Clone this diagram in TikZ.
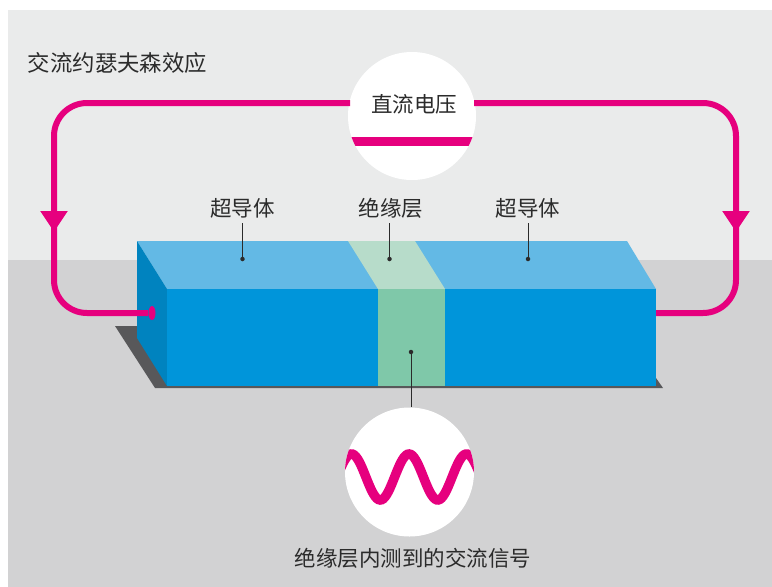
\documentclass[tikz,border=0pt]{standalone}
\usepackage{fontspec}
\setmainfont{Noto Sans CJK SC}
\usepackage{xcolor}
\usetikzlibrary{positioning,arrows.meta,shapes.geometric}

\definecolor{wallgray}{HTML}{EAEBEB}
\definecolor{floorgray}{HTML}{D2D2D3}
\definecolor{shadowgray}{HTML}{58585A}
\definecolor{sctop}{HTML}{63B9E5}
\definecolor{scfront}{HTML}{0095DA}
\definecolor{scside}{HTML}{0083BF}
\definecolor{instop}{HTML}{B7DCCA}
\definecolor{insfront}{HTML}{7FC8A9}
\definecolor{wirepink}{HTML}{E6007E}
\definecolor{inkgray}{HTML}{2B2B2B}

\begin{document}
\begin{tikzpicture}[
    x=1pt, y=-1pt,
    wire/.style={draw=wirepink, line width=6pt, rounded corners=33pt},
    flow/.style={-{Triangle[width=26pt,length=21pt]}},
    disc/.style={circle, fill=white, inner sep=0pt, minimum size=#1},
    wirecap/.style={ellipse, fill=wirepink, inner sep=0pt, minimum width=7pt, minimum height=14pt},
    label/.style={inkgray, font=\fontsize{21.5}{24}\selectfont, inner sep=0pt},
    leader/.style={draw=inkgray, line width=1pt},
    dot/.style={circle, fill=inkgray, inner sep=0pt, minimum size=4.5pt}
]
    \useasboundingbox (0,0) rectangle (772,587);

    % wall and floor
    \fill[wallgray] (8,10) rectangle (772,260);
    \fill[floorgray] (8,260) rectangle (772,587);

    % shadow under the block
    \fill[shadowgray] (115,326) -- (137,326) -- (167,380) -- (656,378) -- (663,388) -- (155,388) -- cycle;

    % superconductor block with the barrier in the middle
    \fill[sctop] (137,241) -- (627,241) -- (656,289) -- (167,289) -- cycle;
    \fill[scside] (137,241) -- (167,289) -- (167,386) -- (137,338) -- cycle;
    \fill[scfront] (167,289) rectangle (656,386);
    \fill[instop] (348,241) -- (415,241) -- (445,289) -- (378,289) -- cycle;
    \fill[insfront] (378,289) rectangle (445,386);

    % wire ends and corners
    \node[disc=128pt] (dc) at (412,116) {};
    \node[wirecap] (terminal) at (152,313) {};
    \coordinate (dcleft) at (350,103);
    \coordinate (dcright) at (474,103);
    \coordinate (cornerTL) at (54,103);
    \coordinate (cornerBL) at (54,313);
    \coordinate (cornerTR) at (736,103);
    \coordinate (cornerBR) at (736,313);
    \coordinate (tipleft) at (54,232);
    \coordinate (tipright) at (736,232);
    \coordinate (baseleft) at (54,216);
    \coordinate (baseright) at (736,216);
    \coordinate (blockright) at (656,313);

    % circuit
    \draw[wire] (baseleft) -- (cornerBL) -- (terminal);
    \draw[wire] (baseright) -- (cornerBR) -- (blockright);
    \draw[wire, flow] (dcleft) -- (cornerTL) -- (tipleft);
    \draw[wire, flow] (dcright) -- (cornerTR) -- (tipright);

    % dc circle
    \begin{scope}
        \clip (412,116) circle (64);
        \draw[draw=wirepink, line width=9pt] (340,141.5) -- (484,141.5);
    \end{scope}
    \node[label] (dclabel) at (414,104) {直流电压};

    % ac circle
    \node[disc=129pt] (ac) at (409.5,472) {};
    \begin{scope}
        \clip (409.5,472) circle (64.5);
        \draw[draw=wirepink, line width=9.5pt] plot[domain=338:482, samples=90, smooth] (\x, {477-23*cos(6.2609*(\x-409))});
    \end{scope}

    % labels
    \node[label, font=\fontsize{22.4}{24}\selectfont] (title) at (117.5,63) {交流约瑟夫森效应};
    \node[label] (scleft) at (242.5,208) {超导体};
    \node[label] (barrier) at (391,208) {绝缘层};
    \node[label] (scright) at (528,208) {超导体};
    \node[label] (signal) at (413,558) {绝缘层内测到的交流信号};

    % pointers
    \node[dot] (dotleft) at (242.5,259) {};
    \node[dot] (dotbarrier) at (389.5,259) {};
    \node[dot] (dotright) at (528,259) {};
    \node[dot] (dotsignal) at (411,352) {};
    \coordinate (topleft) at (242.5,223);
    \coordinate (topbarrier) at (389.5,223);
    \coordinate (topright) at (528,223);
    \draw[leader] (topleft) -- (dotleft);
    \draw[leader] (topbarrier) -- (dotbarrier);
    \draw[leader] (topright) -- (dotright);
    \draw[leader] (dotsignal) -- (dotsignal |- ac.north);
\end{tikzpicture}
\end{document}
